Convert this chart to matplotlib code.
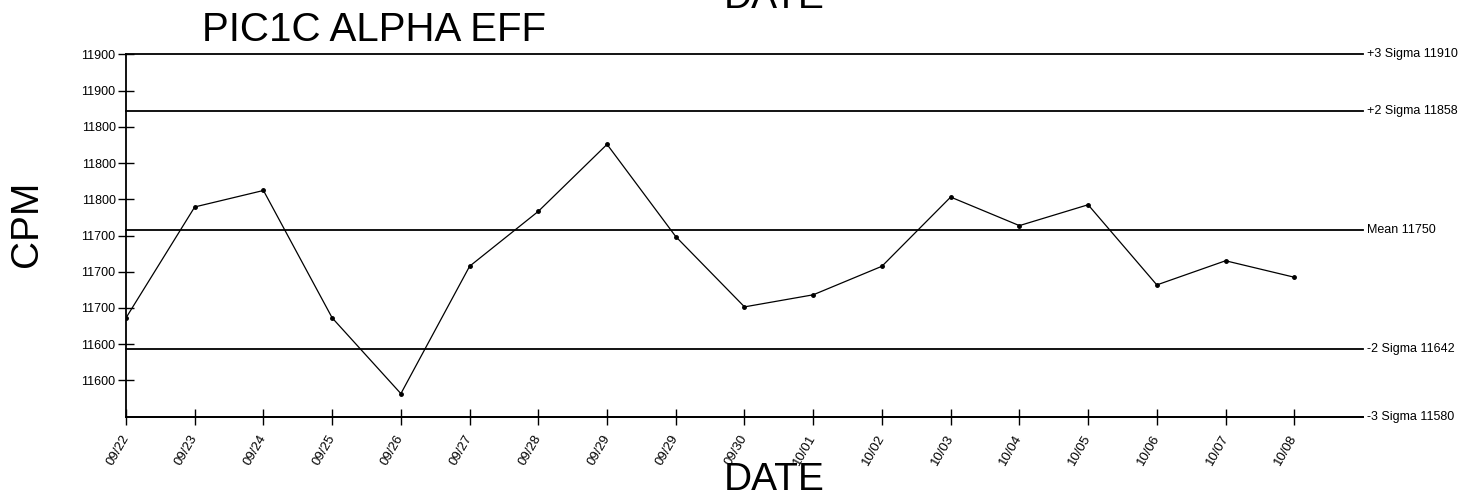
import matplotlib
matplotlib.use('Agg')
import matplotlib.pyplot as plt

plt.rcParams['font.family'] = ['Liberation Sans', 'DejaVu Sans']

# 数据
dates = ['09/22', '09/23', '09/24', '09/25', '09/26', '09/27', '09/28', '09/29', '09/29',
         '09/30', '10/01', '10/02', '10/03', '10/04', '10/05', '10/06', '10/07', '10/08']
cpm = [11670, 11771, 11786, 11670, 11601, 11717, 11767, 11828, 11744,
       11680, 11691, 11717, 11780, 11754, 11773, 11700, 11722, 11707]

limit_names = ['+3 Sigma', '+2 Sigma', 'Mean', '-2 Sigma', '-3 Sigma']
limit_values = [11910, 11858, 11750, 11642, 11580]

ytick_values = [11613, 11646, 11679, 11712, 11745, 11778, 11811, 11844, 11877, 11910]
ytick_labels = ['11600', '11600', '11700', '11700', '11700', '11800', '11800', '11800', '11900', '11900']

fig = plt.figure(figsize=(14.73, 4.92), dpi=100)
ax = fig.add_axes([126 / 1473, 75.3 / 492, 1237 / 1473, 362.4 / 492])

# 控制线
for name, val in zip(limit_names, limit_values):
    ax.axhline(val, color='black', linewidth=1.3, zorder=2, clip_on=False)
    ax.text(1.003, val, f'{name} {val}', transform=ax.get_yaxis_transform(),
            ha='left', va='center', fontsize=9)

x = list(range(len(cpm)))
ax.plot(x, cpm, color='black', linewidth=0.9, marker='o', markersize=2.5, zorder=3)

ax.set_xlim(0, 18)
ax.set_ylim(11580, 11910)
ax.set_xticks(x)
ax.set_xticklabels(dates, rotation=60, ha='right', va='center', rotation_mode='anchor', fontsize=9.5)
ax.set_yticks(ytick_values)
ax.set_yticklabels(ytick_labels, fontsize=9)
ax.tick_params(axis='both', direction='inout', length=11, width=1, color='black')
ax.tick_params(axis='y', pad=2)
ax.tick_params(axis='x', pad=8)

for side in ['top', 'right']:
    ax.spines[side].set_visible(False)
for side in ['left', 'bottom']:
    ax.spines[side].set_linewidth(1.3)

fig.text(374 / 1473, 1 - 41 / 492, 'PIC1C ALPHA EFF', fontsize=29, ha='center', va='baseline')
fig.text(774 / 1473, 1 - 490 / 492, 'DATE', fontsize=28, ha='center', va='baseline')
fig.text(774 / 1473, 1 - 8 / 492, 'DATE', fontsize=28, ha='center', va='baseline')
fig.text(27 / 1473, 1 - 224 / 492, 'CPM', fontsize=28, ha='center', va='center', rotation=90)

plt.savefig('out.png', dpi=100)
plt.close()
